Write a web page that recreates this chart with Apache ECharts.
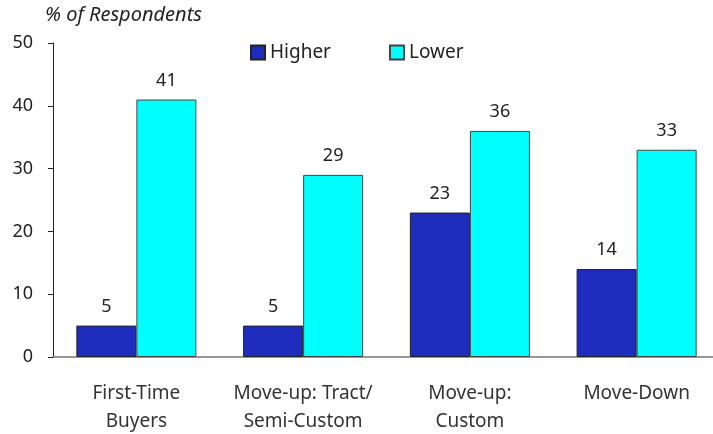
<!DOCTYPE html>
<html>
<head>
<meta charset="utf-8">
<script src="https://cdn.jsdelivr.net/npm/echarts@6/dist/echarts.min.js"></script>
<style>
  html, body { margin: 0; padding: 0; background: #fff; }
  #chart { width: 713px; height: 434px; }
</style>
</head>
<body>
<div id="chart"></div>
<script>
// données du graphique
const categories = ["First-Time\nBuyers", "Move-up: Tract/\nSemi-Custom", "Move-up:\nCustom", "Move-Down"];
const higher = [5, 5, 23, 14];
const lower = [41, 29, 36, 33];
const yTicks = [0, 10, 20, 30, 40, 50];

const font = "Noto Sans";
const chart = echarts.init(document.getElementById("chart"));

chart.setOption({
  animation: false,
  textStyle: { fontFamily: font },
  title: {
    text: "% of Respondents",
    left: 45,
    top: 5,
    padding: 0,
    textStyle: { fontFamily: font, fontStyle: "italic", fontWeight: "normal", fontSize: 20, color: "#222" }
  },
  legend: {
    top: 43,
    left: 250,
    padding: 0,
    itemWidth: 14,
    itemHeight: 14,
    itemGap: 58,
    icon: "rect",
    textStyle: { fontFamily: font, fontSize: 19, color: "#222", padding: [0, 0, 0, 0] },
    data: ["Higher", "Lower"]
  },
  // la grille dépasse un peu à droite, comme dans l'original
  grid: { left: 53, top: 43, width: 667, height: 314, containLabel: false, outerBoundsMode: "none" },
  xAxis: {
    type: "category",
    data: categories,
    axisLine: { lineStyle: { color: "#777", width: 1.5 } },
    axisTick: { show: false },
    axisLabel: { interval: 0, margin: 23, fontFamily: font, fontSize: 19, color: "#333", lineHeight: 28 }
  },
  yAxis: {
    type: "value",
    min: yTicks[0],
    max: yTicks[yTicks.length - 1],
    interval: 10,
    axisLine: { show: true, lineStyle: { color: "#222", width: 1 } },
    axisTick: { show: true, length: 5, lineStyle: { color: "#222" } },
    splitLine: { show: false },
    axisLabel: { margin: 20, fontFamily: font, fontSize: 18, color: "#222" }
  },
  series: [
    {
      name: "Higher",
      type: "bar",
      data: higher,
      barGap: "0%",
      barCategoryGap: "28%",
      itemStyle: { color: "#1E2DBE", borderColor: "#222", borderWidth: 1 },
      label: { show: true, position: "top", distance: 10, fontFamily: font, fontSize: 18, color: "#222" }
    },
    {
      name: "Lower",
      type: "bar",
      data: lower,
      barGap: "0%",
      barCategoryGap: "28%",
      itemStyle: { color: "#00FFFF", borderColor: "#444", borderWidth: 1 },
      label: { show: true, position: "top", distance: 10, fontFamily: font, fontSize: 18, color: "#222" }
    }
  ]
});
</script>
</body>
</html>
